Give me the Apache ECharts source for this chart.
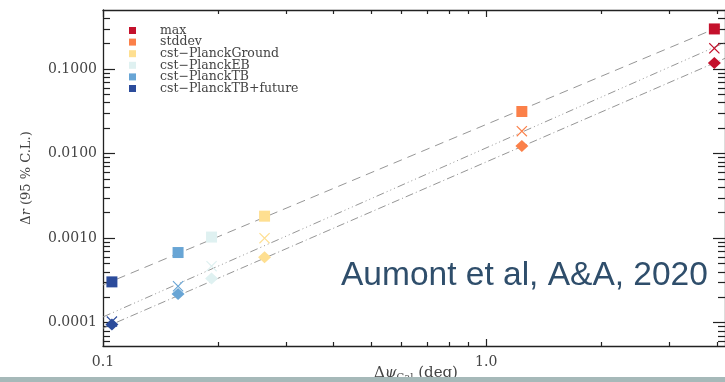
<!DOCTYPE html>
<html>
<head>
<meta charset="utf-8">
<script src="https://cdn.jsdelivr.net/npm/echarts@6/dist/echarts.min.js"></script>
<style>
  html, body { margin: 0; padding: 0; background: #ffffff; }
  #chart { width: 725px; height: 382px; }
</style>
</head>
<body>
<div id="chart"></div>
<script>
// Calibration uncertainty on the polarisation angle vs. bias on r
const experiments = ['max', 'stddev', 'cst\u2212PlanckGround', 'cst\u2212PlanckEB', 'cst\u2212PlanckTB', 'cst\u2212PlanckTB+future'];
const expColors = ['#c4112c', '#fb8049', '#fedf91', '#dff1f1', '#68a5d5', '#2b4b9b'];

// Δψ_Cal (deg) for each experiment
const dpsi = [3.94, 1.239, 0.264, 0.192, 0.157, 0.1055];
// Δr (95 % C.L.) for the three estimators
const drSquare  = [0.2985, 0.0315, 0.00182, 0.00103, 0.000676, 0.000304];
const drCross   = [0.176, 0.01845, 0.00100, 0.000466, 0.000270, 0.000103];
const drDiamond = [0.118, 0.01228, 0.000596, 0.000333, 0.000218, 0.0000955];

// Power-law trend lines (end points)
const fitX       = [0.1, 4.2];
const fitSquare  = [0.00028, 0.337];
const fitCross   = [0.000117, 0.206];
const fitDiamond = [0.000086, 0.134];

// Axis ticks
const xMajor = [0.1, 1.0];
const xMinor = [0.2, 0.3, 0.4, 0.5, 0.6, 0.7, 0.8, 0.9, 2, 3, 4];
const yMajor = [0.0001, 0.001, 0.01, 0.1];
const yMinor = [0.00006, 0.00007, 0.00008, 0.00009,
                0.0002, 0.0003, 0.0004, 0.0005, 0.0006, 0.0007, 0.0008, 0.0009,
                0.002, 0.003, 0.004, 0.005, 0.006, 0.007, 0.008, 0.009,
                0.02, 0.03, 0.04, 0.05, 0.06, 0.07, 0.08, 0.09,
                0.2, 0.3, 0.4];

const X_MIN = 0.1, X_MAX = 4.2, Y_MIN = 0.000053, Y_MAX = 0.5;

const crossPath = 'path://M0,1.5L1.5,0L10,8.5L18.5,0L20,1.5L11.5,10L20,18.5L18.5,20L10,11.5L1.5,20L0,18.5L8.5,10Z';
const serif = 'DejaVu Serif';
const axisColor = '#222';
const labelColor = '#444';

function logAxis(kind, pos, ticks, tickLen, withLine, labels) {
  const ax = {
    type: 'log', logBase: 10, position: pos,
    min: kind === 'x' ? X_MIN : Y_MIN,
    max: kind === 'x' ? X_MAX : Y_MAX,
    splitLine: { show: false },
    axisLine: { show: withLine, lineStyle: { color: axisColor, width: 1.3 } },
    axisTick: { show: true, inside: true, length: tickLen, customValues: ticks,
                lineStyle: { color: axisColor, width: 1.2 } },
    axisLabel: { show: false }
  };
  if (labels) {
    ax.axisLabel = {
      show: true, customValues: ticks, color: labelColor,
      fontFamily: serif, fontSize: 14,
      margin: kind === 'x' ? 9 : 6,
      formatter: labels
    };
  }
  return ax;
}

const scatterSeries = experiments.map((name, i) => ({
  name: name,
  type: 'scatter',
  xAxisIndex: 0, yAxisIndex: 0,
  itemStyle: { color: expColors[i], opacity: 1 },
  z: 5,
  data: [
    { value: [dpsi[i], drSquare[i]],  symbol: 'rect',    symbolSize: 11 },
    { value: [dpsi[i], drCross[i]],   symbol: crossPath, symbolSize: 11 },
    { value: [dpsi[i], drDiamond[i]], symbol: 'diamond', symbolSize: [13, 12] }
  ]
}));

function trend(vals, dash) {
  return {
    type: 'line', xAxisIndex: 0, yAxisIndex: 0,
    data: fitX.map((x, k) => [x, vals[k]]),
    symbol: 'none', silent: true, z: 2,
    lineStyle: { color: '#8a8a8a', width: 0.9, type: dash }
  };
}

const option = {
  animation: false,
  backgroundColor: '#ffffff',
  grid: { left: 103, top: 10, width: 623, height: 336, containLabel: false },
  legend: {
    data: experiments,
    orient: 'vertical',
    left: 124, top: 19,
    icon: 'rect', itemWidth: 7, itemHeight: 7, itemGap: -1.4,
    textStyle: { fontFamily: serif, fontSize: 12.5, color: '#444',
                 padding: [0, 0, 0, 19] }
  },
  xAxis: [
    logAxis('x', 'bottom', xMajor, 7, true, v => (v < 0.5 ? '0.1' : '1.0')),
    logAxis('x', 'bottom', xMinor, 4, false, null),
    logAxis('x', 'top', xMajor, 7, true, null),
    logAxis('x', 'top', xMinor, 4, false, null)
  ],
  yAxis: [
    Object.assign(logAxis('y', 'left', yMajor, 12, true, v => v.toFixed(4)), {
      name: '{d|\u0394}{i|r}{d| (95 % C.L.)}',
      nameLocation: 'middle', nameGap: 70, nameRotate: 90,
      nameTextStyle: {
        color: labelColor,
        rich: {
          d: { fontFamily: serif, fontSize: 13, color: labelColor },
          i: { fontFamily: serif, fontSize: 13, fontStyle: 'italic', color: labelColor }
        }
      }
    }),
    logAxis('y', 'left', yMinor, 7, false, null),
    logAxis('y', 'right', yMajor, 12, true, null),
    logAxis('y', 'right', yMinor, 7, false, null)
  ],
  graphic: [
    {
      type: 'text', left: 341, top: 259, z: 10,
      style: { text: 'Aumont et al, A&A, 2020', font: '33.5px "Liberation Sans", Arial, sans-serif',
               fill: '#2f4e6b' }
    },
    {
      type: 'text', left: 374, top: 366, z: 10,
      style: {
        text: '{d|\u0394}{i|\u03c8}{s|Cal}{d| (deg)}',
        rich: {
          d: { fontFamily: serif, fontSize: 15, fill: labelColor },
          i: { fontFamily: serif, fontSize: 15, fontStyle: 'italic', fill: labelColor },
          s: { fontFamily: serif, fontSize: 10, fill: labelColor, verticalAlign: 'bottom', padding: [7, 0, 0, 0] }
        }
      }
    },
    {
      type: 'rect', left: 0, top: 377, z: 20,
      shape: { width: 725, height: 5 },
      style: { fill: '#a6b9b9' }
    }
  ],
  series: [
    trend(fitSquare, [9, 6]),
    trend(fitCross, [8, 3, 1, 3, 1, 3, 1, 3]),
    trend(fitDiamond, [8, 3, 1, 3])
  ].concat(scatterSeries)
};

const chart = echarts.init(document.getElementById('chart'), null, { renderer: 'canvas' });
chart.setOption(option);
</script>
</body>
</html>
